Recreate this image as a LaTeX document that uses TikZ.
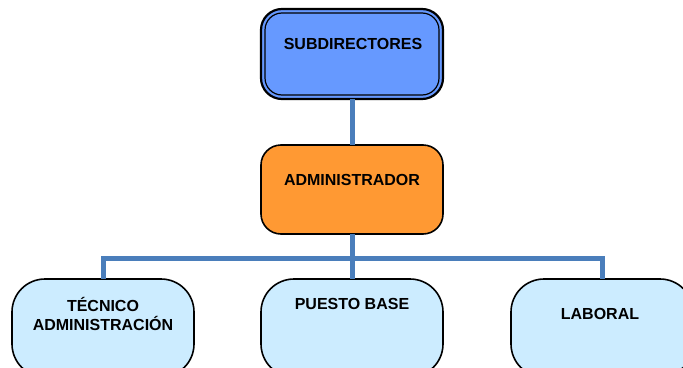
\documentclass[tikz,border=0pt]{standalone}
\usepackage{fontspec}
\setmainfont{Liberation Sans}
\definecolor{linkblue}{HTML}{4A7EBB}
\definecolor{subfill}{HTML}{6699FF}
\definecolor{admfill}{HTML}{FF9933}
\definecolor{leaffill}{HTML}{CCECFF}
\begin{document}
\begin{tikzpicture}[x=1pt,y=-1pt,
  box/.style={draw=black,line width=1.6pt,rounded corners=#1,inner sep=0pt,outer sep=0pt,anchor=north west},
  leaf/.style={box=33pt,fill=leaffill,minimum width=182pt,minimum height=98pt},
  lbl/.style={font=\fontsize{16}{19}\selectfont\bfseries,align=center,inner sep=0pt},
  link/.style={draw=linkblue,line width=5pt}]
\useasboundingbox (0,0) rectangle (683,367);
\begin{scope}
\clip (0,0) rectangle (683,367);
% boxes
\node[box=21pt,fill=subfill,line width=2.2pt,minimum width=182pt,minimum height=90pt] (sub) at (261,9) {};
\node[box=20pt,fill=admfill,minimum width=182pt,minimum height=89pt] (adm) at (261,145) {};
\node[leaf] (tec) at (12,279) {};
\node[leaf] (pue) at (261,279) {};
\node[leaf] (lab) at (511,279) {};
\coordinate (bus) at (352,258);
\draw[black,line width=1.2pt,rounded corners=17pt] ([shift={(4pt,-4pt)}]sub.north west) rectangle ([shift={(-4pt,4pt)}]sub.south east);
% connectors
\draw[link] (sub.south) -- (adm.north);
\draw[link] (adm.south) -- (pue.north);
\draw[link] (tec.north) -- (tec.north |- bus) -- (lab.north |- bus) -- (lab.north);
% labels
\node[lbl] (tsub) at (353,44) {SUBDIRECTORES};
\node[lbl] (tadm) at (352,180) {ADMINISTRADOR};
\node[lbl] (ttec) at (103,314) {TÉCNICO\\ADMINISTRACIÓN};
\node[lbl] (tpue) at (352,304) {PUESTO BASE};
\node[lbl] (tlab) at (600,314) {LABORAL};
\end{scope}
\end{tikzpicture}
\end{document}
